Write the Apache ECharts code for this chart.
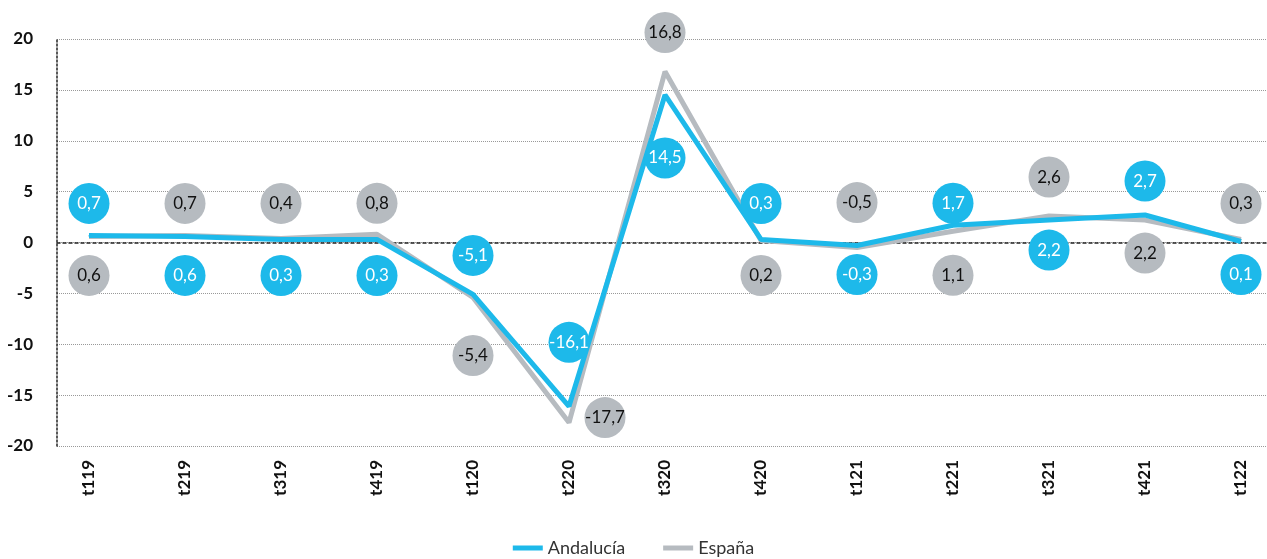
<!DOCTYPE html>
<html>
<head>
<meta charset="utf-8">
<script src="https://cdn.jsdelivr.net/npm/echarts@6/dist/echarts.min.js"></script>
<style>
  html, body { margin: 0; padding: 0; background: #fff; }
  #chart { width: 1267px; height: 559px; }
</style>
</head>
<body>
<div id="chart"></div>
<script>
// trimestres
const categories = ['t119', 't219', 't319', 't419', 't120', 't220', 't320', 't420', 't121', 't221', 't321', 't421', 't122'];
const andalucia = [0.7, 0.6, 0.3, 0.3, -5.1, -16.1, 14.5, 0.3, -0.3, 1.7, 2.2, 2.7, 0.1];
const espana = [0.6, 0.7, 0.4, 0.8, -5.4, -17.7, 16.8, 0.2, -0.5, 1.1, 2.6, 2.2, 0.3];

// desplazamiento de las burbujas respecto al punto (px), solo maquetacion
const andaluciaShift = [[0, -32], [0, 39], [0, 36], [0, 36], [0, -39], [0, -64], [0, 63], [0, -36], [0, 29], [0, -22], [0, 30], [0, -34], [0, 33]];
const espanaShift = [[0, 39], [0, -32], [0, -35], [0, -31], [0, 58], [36, -5], [0, -39], [0, 35], [0, -45], [0, 44], [0, -39], [0, 33], [0, -36]];

const BLUE = '#1DB9EA';
const GREY = '#B6BBC0';
const FONT = 'Lato';

function bubbles(values, shifts, bg, fg) {
  return values.map((v, i) => ({
    value: v,
    label: {
      show: true,
      position: 'inside',
      offset: shifts[i],
      formatter: String(v).replace('.', ','),
      backgroundColor: bg,
      color: fg,
      width: 41,
      height: 41,
      lineHeight: 41,
      borderRadius: 20.5,
      align: 'center',
      verticalAlign: 'middle',
      fontFamily: FONT,
      fontSize: 17
    }
  }));
}

const chart = echarts.init(document.getElementById('chart'));

const option = {
  animation: false,
  textStyle: { fontFamily: FONT },
  legend: {
    bottom: -3,
    left: 'center',
    itemWidth: 30,
    itemHeight: 5,
    itemGap: 38,
    icon: 'rect',
    textStyle: { fontFamily: FONT, fontSize: 18, color: '#333' },
    data: ['Andalucía', 'España']
  },
  grid: [
    // fondo: rejilla, eje y y linea de cero
    { left: 57, right: 0, top: 39, bottom: 113 },
    // series
    { left: 89, right: 26, top: 39, bottom: 113 }
  ],
  xAxis: [
    {
      gridIndex: 0,
      type: 'category',
      data: categories,
      axisLine: { show: true, onZero: true, lineStyle: { color: '#222', type: [3, 3], width: 1.5 } },
      axisTick: { show: false },
      axisLabel: { show: false },
      splitLine: { show: false }
    },
    {
      gridIndex: 1,
      type: 'category',
      data: categories,
      boundaryGap: false,
      axisLine: { show: false, onZero: false },
      axisTick: { show: false },
      axisLabel: {
        rotate: 90,
        margin: 14,
        color: '#111',
        fontFamily: FONT,
        fontWeight: 'bold',
        fontSize: 17
      }
    }
  ],
  yAxis: [
    {
      gridIndex: 0,
      type: 'value',
      min: -20,
      max: 20,
      interval: 5,
      axisLine: { show: true, lineStyle: { color: '#222', type: [2, 2], width: 1.5 } },
      axisTick: { show: false },
      axisLabel: {
        margin: 24,
        color: '#111',
        fontFamily: FONT,
        fontWeight: 'bold',
        fontSize: 17
      },
      splitLine: { show: true, lineStyle: { color: '#999', type: [1, 1], width: 1 } }
    },
    {
      gridIndex: 1,
      type: 'value',
      min: -20,
      max: 20,
      interval: 5,
      axisLine: { show: false },
      axisTick: { show: false },
      axisLabel: { show: false },
      splitLine: { show: false }
    }
  ],
  series: [
    {
      name: 'Andalucía',
      type: 'line',
      xAxisIndex: 1,
      yAxisIndex: 1,
      data: bubbles(andalucia, andaluciaShift, BLUE, '#fff'),
      symbol: 'circle',
      symbolSize: 1,
      lineStyle: { color: BLUE, width: 5 },
      itemStyle: { color: BLUE },
      z: 3
    },
    {
      name: 'España',
      type: 'line',
      xAxisIndex: 1,
      yAxisIndex: 1,
      data: bubbles(espana, espanaShift, GREY, '#111'),
      symbol: 'circle',
      symbolSize: 1,
      lineStyle: { color: GREY, width: 5 },
      itemStyle: { color: GREY },
      z: 2
    }
  ]
};

chart.setOption(option);
window.addEventListener('resize', () => {
  chart.resize();
});
</script>
</body>
</html>
